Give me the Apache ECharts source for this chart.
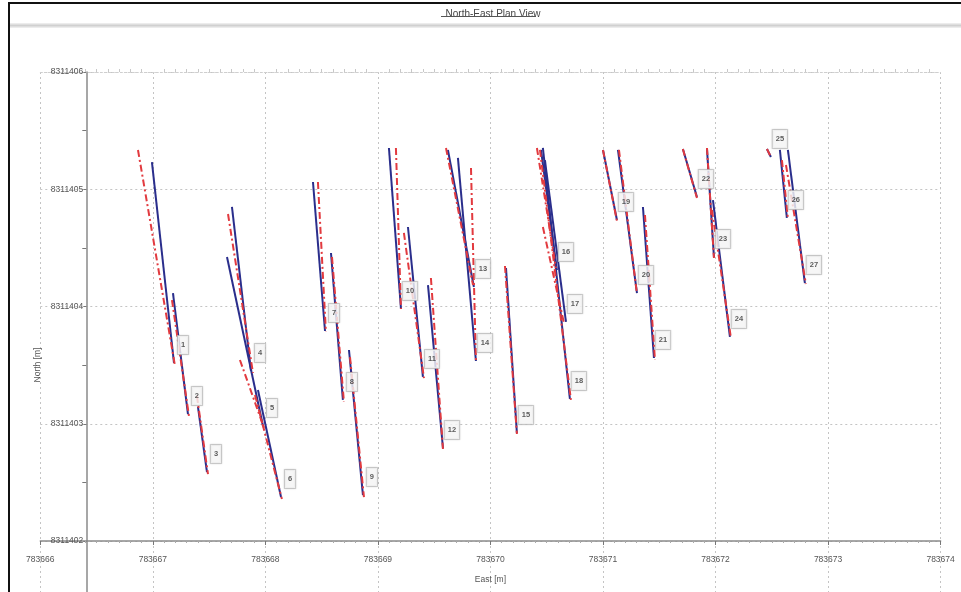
<!DOCTYPE html>
<html>
<head>
<meta charset="utf-8">
<script src="https://cdn.jsdelivr.net/npm/echarts@6/dist/echarts.min.js"></script>
<style>
html,body{margin:0;padding:0;background:#fff;}
#c{width:961px;height:592px;}
</style>
</head>
<body>
<div id="c"></div>
<script>
// ---- data (East [m], North [m]) ----
const segLabels = ['1','2','3','4','5','6','7','8','9','10','11','12','13','14','15','16','17','18','19','20','21','22','23','24','25','26','27'];
const blueFrom = [
  [783666.992,8311405.232],[783667.179,8311404.115],[783667.401,8311403.143],[783667.703,8311404.849],
  [783667.659,8311404.422],[783667.934,8311403.288],[783668.423,8311405.062],[783668.583,8311404.456],
  [783668.743,8311403.629],[783669.098,8311405.352],[783669.267,8311404.678],[783669.445,8311404.183],
  [783669.622,8311405.335],[783669.711,8311405.267],[783670.138,8311404.328],[783670.449,8311405.335],
  [783670.484,8311405.249],[783670.466,8311405.352],[783671.000,8311405.335],[783671.133,8311405.335],
  [783671.355,8311404.849],[783671.710,8311405.343],[783671.924,8311405.343],[783671.977,8311404.908],
  [783672.457,8311405.343],[783672.572,8311405.335],[783672.643,8311405.335]
];
const blueTo = [
  [783667.188,8311403.518],[783667.312,8311403.083],[783667.481,8311402.588],[783667.872,8311403.450],
  [783667.979,8311402.981],[783668.139,8311402.375],[783668.530,8311403.791],[783668.689,8311403.203],
  [783668.867,8311402.392],[783669.205,8311403.979],[783669.400,8311403.399],[783669.578,8311402.793],
  [783669.853,8311404.166],[783669.871,8311403.535],[783670.235,8311402.921],[783670.591,8311404.311],
  [783670.671,8311403.868],[783670.706,8311403.211],[783671.124,8311404.738],[783671.302,8311404.115],
  [783671.453,8311403.561],[783671.835,8311404.934],[783671.986,8311404.422],[783672.128,8311403.740],
  [783672.492,8311405.275],[783672.634,8311404.755],[783672.794,8311404.200]
];
const redFrom = [
  [783666.868,8311405.335],[783667.170,8311404.055],[783667.392,8311403.237],[783667.668,8311404.789],
  [783667.774,8311403.544],[783667.908,8311403.245],[783668.467,8311405.062],[783668.592,8311404.422],
  [783668.752,8311403.569],[783669.160,8311405.352],[783669.231,8311404.627],[783669.471,8311404.243],
  [783669.605,8311405.352],[783669.827,8311405.181],[783670.129,8311404.345],[783670.413,8311405.352],
  [783670.466,8311404.678],[783670.440,8311405.335],[783671.000,8311405.335],[783671.142,8311405.335],
  [783671.373,8311404.780],[783671.710,8311405.343],[783671.924,8311405.352],[783671.968,8311404.823],
  [783672.457,8311405.343],[783672.590,8311405.249],[783672.626,8311405.207]
];
const redTo = [
  [783667.197,8311403.493],[783667.321,8311403.066],[783667.490,8311402.571],[783667.890,8311403.433],
  [783667.988,8311402.964],[783668.147,8311402.358],[783668.538,8311403.783],[783668.698,8311403.186],
  [783668.876,8311402.375],[783669.205,8311403.979],[783669.409,8311403.390],[783669.578,8311402.785],
  [783669.845,8311404.183],[783669.871,8311403.544],[783670.235,8311402.913],[783670.582,8311404.328],
  [783670.653,8311403.859],[783670.715,8311403.203],[783671.124,8311404.729],[783671.302,8311404.107],
  [783671.462,8311403.544],[783671.835,8311404.925],[783671.986,8311404.414],[783672.137,8311403.731],
  [783672.492,8311405.275],[783672.643,8311404.755],[783672.803,8311404.192]
];
const xTicks = [783666,783667,783668,783669,783670,783671,783672,783673,783674];
const xTickLabels = ['783666','783667','783668','783669','783670','783671','783672','783673','783674'];
const yTicks = [8311402,8311403,8311404,8311405,8311406];
const yTickLabels = ['8311402','8311403','8311404','8311405','8311406'];

// ---- chart ----
const chart = echarts.init(document.getElementById('c'));
const FONT = 'Liberation Sans, Arial, sans-serif';
const lblX = v => { const i = xTicks.indexOf(Math.round(v)); return i >= 0 ? xTickLabels[i] : ''; };
const lblY = v => { const i = yTicks.indexOf(Math.round(v)); return i >= 0 ? yTickLabels[i] : ''; };
const gridLine = {show:true, lineStyle:{color:'#c4c4c4', type:[2,3], width:1}};

const blueData = blueFrom.map((p,i)=>({coords:[p, blueTo[i]]}));
const redData = redFrom.map((p,i)=>({coords:[p, redTo[i]]}));
const labelData = blueTo.map((p,i)=>({value:p, name:segLabels[i]}));

chart.setOption({
  animation:false,
  backgroundColor:'#ffffff',
  title:{
    text:'North-East Plan View', left:488, top:4, textAlign:'center',
    textStyle:{fontSize:10, fontWeight:'normal', color:'#444', fontFamily:FONT}
  },
  grid:[
    {left:40.3, right:20.4, top:72, bottom:51},
    {left:40.3, right:20.4, top:541, bottom:0}
  ],
  xAxis:[
    {type:'value', gridIndex:0, position:'bottom', min:783666, max:783674, interval:1,
     axisLine:{show:true, onZero:false, lineStyle:{color:'#8a8a8a', width:1.5}},
     axisTick:{show:true, length:4, lineStyle:{color:'#777'}},
     minorTick:{show:true, splitNumber:10, length:2, lineStyle:{color:'#aaa'}},
     axisLabel:{formatter:lblX, fontSize:8.5, color:'#555', margin:14, fontFamily:FONT},
     splitLine:gridLine,
     name:'East [m]', nameLocation:'middle', nameGap:34,
     nameTextStyle:{fontSize:8.5, color:'#555', fontFamily:FONT}},
    {type:'value', gridIndex:1, min:783666, max:783674, interval:1,
     axisLine:{show:false}, axisTick:{show:false}, axisLabel:{show:false},
     splitLine:gridLine},
    {type:'value', gridIndex:0, position:'top', min:783666, max:783674, interval:1,
     axisLine:{show:true, onZero:false, lineStyle:{color:'#cfcfcf', width:1, type:[2,2]}},
     axisTick:{show:false},
     minorTick:{show:true, splitNumber:10, length:3, lineStyle:{color:'#c8c8c8'}},
     axisLabel:{show:false}, splitLine:{show:false}}
  ],
  yAxis:[
    {type:'value', gridIndex:0, position:'left', offset:-46, min:8311402, max:8311406, interval:1,
     axisLine:{show:true, onZero:false, lineStyle:{color:'#8a8a8a', width:1.5}},
     axisTick:{show:true, length:3, lineStyle:{color:'#777'}},
     minorTick:{show:true, splitNumber:2, length:4, lineStyle:{color:'#777'}},
     axisLabel:{formatter:lblY, fontSize:8.5, color:'#555', margin:3, fontFamily:FONT},
     splitLine:gridLine},
    {type:'value', gridIndex:1, position:'left', offset:-46, min:0, max:1,
     axisLine:{show:true, onZero:false, lineStyle:{color:'#8a8a8a', width:1.5}},
     axisTick:{show:false}, axisLabel:{show:false}, splitLine:{show:false}}
  ],
  series:[
    {type:'lines', coordinateSystem:'cartesian2d', xAxisIndex:0, yAxisIndex:0, z:3,
     lineStyle:{color:'#2a2e8c', width:2, opacity:1, type:'solid'},
     data:blueData},
    {type:'lines', coordinateSystem:'cartesian2d', xAxisIndex:0, yAxisIndex:0, z:4,
     lineStyle:{color:'#e23a3f', width:2, opacity:1, type:[7,3,2,3]},
     data:redData},
    {type:'scatter', xAxisIndex:0, yAxisIndex:0, z:6, symbolSize:1,
     itemStyle:{color:'rgba(0,0,0,0)'},
     label:{show:true, position:'inside', offset:[9,-18], formatter:p=>p.name,
       fontSize:7.5, fontWeight:'bold', color:'#333', fontFamily:FONT,
       backgroundColor:'#fbfbfb', borderColor:'#c6c6c6', borderWidth:1, padding:[5,3,5,3],
       shadowColor:'rgba(0,0,0,0.15)', shadowBlur:2},
     data:labelData}
  ],
  graphic:[
    {type:'line', shape:{x1:8, y1:3, x2:961, y2:3}, style:{stroke:'#111', lineWidth:2}, z:100},
    {type:'line', shape:{x1:9, y1:3, x2:9, y2:592}, style:{stroke:'#111', lineWidth:2}, z:100},
    {type:'rect', shape:{x:10, y:23, width:951, height:5}, style:{fill:'#ececec'}, z:90},
    {type:'rect', shape:{x:10, y:24.5, width:951, height:2}, style:{fill:'#d0d0d0'}, z:91},
    {type:'line', shape:{x1:441, y1:16.5, x2:536, y2:16.5}, style:{stroke:'#555', lineWidth:1}, z:100},
    {type:'text', x:38, y:365, rotation:Math.PI/2, z:100,
     style:{text:'North [m]', fontSize:8.5, fill:'#555', fontFamily:FONT, textAlign:'center', textVerticalAlign:'middle'}}
  ]
});
</script>
</body>
</html>
